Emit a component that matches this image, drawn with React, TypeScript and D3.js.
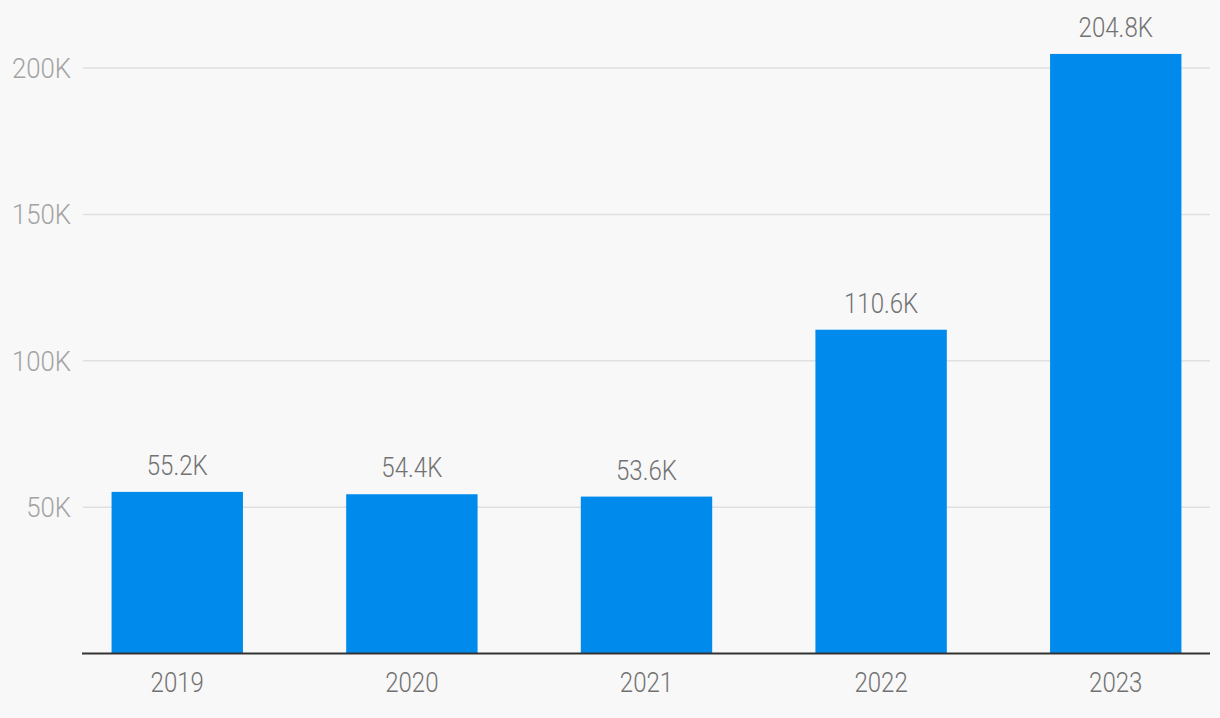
import React from "react";
import * as d3 from "d3";

const years = ["2019", "2020", "2021", "2022", "2023"];
const values = [55200, 54400, 53600, 110600, 204800];
const valueLabels = ["55.2K", "54.4K", "53.6K", "110.6K", "204.8K"];
const yTicks = [50000, 100000, 150000, 200000];
const yTickLabels = ["50K", "100K", "150K", "200K"];

const W = 1220;
const H = 718;
const left = 82;
const right = 1210;
const baseY = 653.5;
const topY = 68;

const FONT = "Roboto, 'Noto Sans', sans-serif";

function Txt({ x, y, anchor, fill, size, sx, children }: any) {
  return (
    <g transform={`translate(${x},${y}) scale(${sx},1)`}>
      <text textAnchor={anchor} fill={fill} fontSize={size} fontFamily={FONT} fontWeight={300}>
        {children}
      </text>
    </g>
  );
}

export default function App() {
  const x = d3
    .scaleBand<string>()
    .domain(years)
    .range([left, right + 1])
    .paddingInner(0.44)
    .paddingOuter(0.126);
  const y = d3.scaleLinear().domain([0, 200000]).range([baseY, topY]);

  return (
    <svg
      width={W}
      height={H}
      style={{ position: "absolute", left: 0, top: 0, display: "block", background: "#f8f8f8" }}
    >
      <rect x={0} y={0} width={W} height={H} fill="#f8f8f8" />
      {yTicks.map((t, i) => (
        <g key={t}>
          <line x1={left + 1} x2={right} y1={y(t)} y2={y(t)} stroke="#e0e0e0" strokeWidth={1.5} />
          <Txt x={71} y={y(t) + 10} anchor="end" fill="#a3a3a3" size={28} sx={0.92}>
            {yTickLabels[i]}
          </Txt>
        </g>
      ))}
      {years.map((yr, i) => (
        <g key={yr}>
          <rect
            x={x(yr)!}
            y={y(values[i])}
            width={x.bandwidth()}
            height={baseY - y(values[i])}
            fill="#008bec"
          />
          <Txt x={x(yr)! + x.bandwidth() / 2} y={y(values[i]) - 17} anchor="middle" fill="#727272" size={28} sx={0.86}>
            {valueLabels[i]}
          </Txt>
          <Txt x={x(yr)! + x.bandwidth() / 2} y={692} anchor="middle" fill="#727272" size={28} sx={0.86}>
            {yr}
          </Txt>
        </g>
      ))}
      <line x1={left} x2={right} y1={baseY} y2={baseY} stroke="#333333" strokeWidth={2} />
    </svg>
  );
}
